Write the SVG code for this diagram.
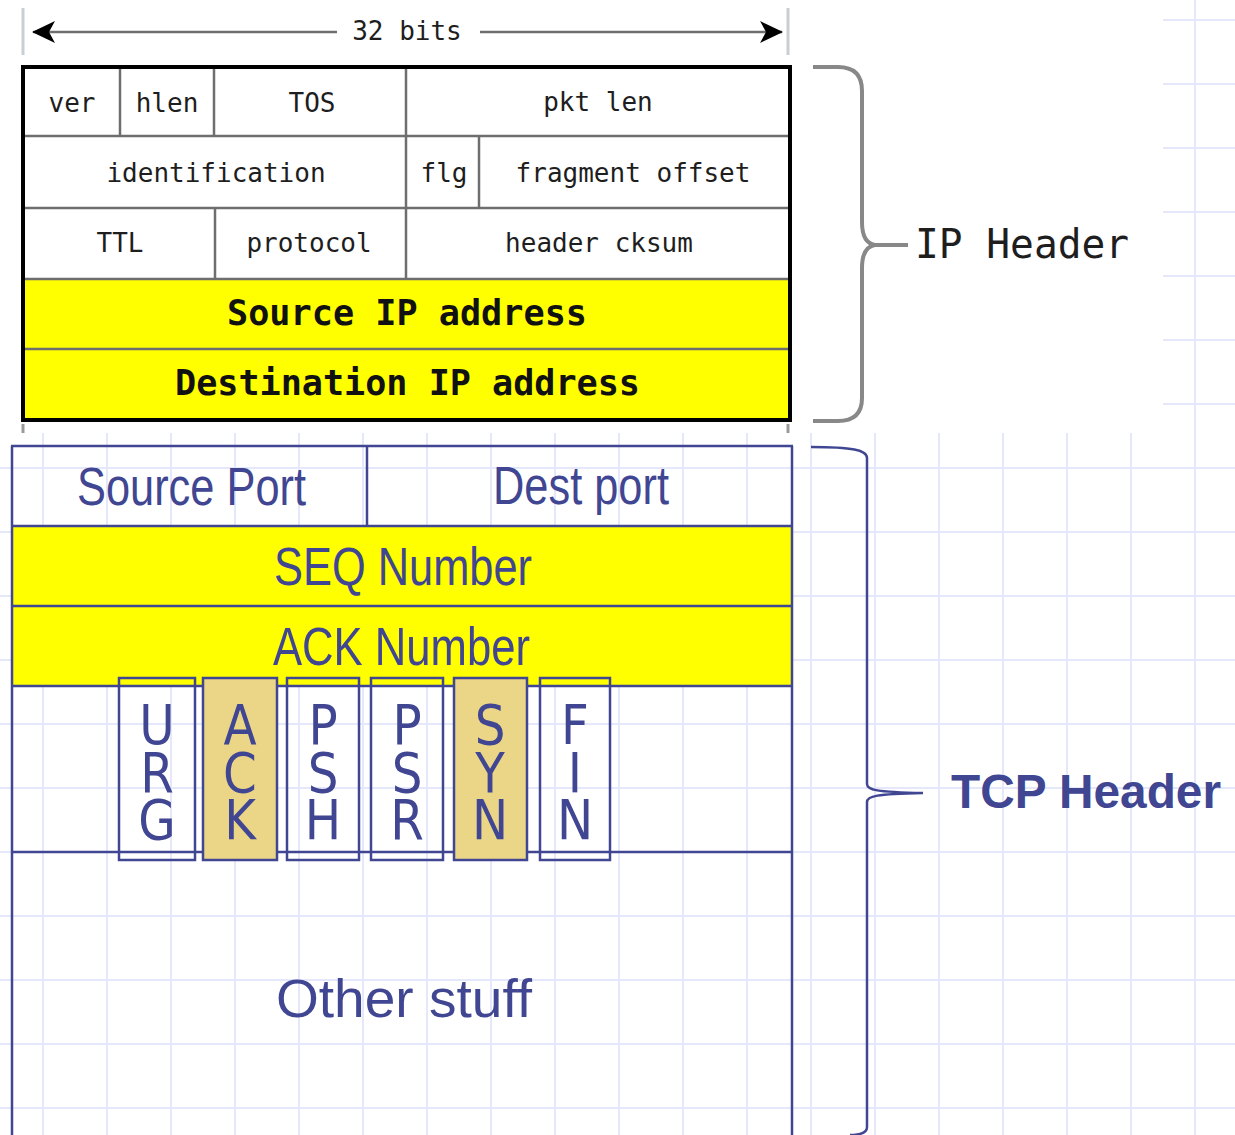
<svg xmlns="http://www.w3.org/2000/svg" width="1235" height="1135" viewBox="0 0 1235 1135">
<style>
.grid line{stroke:#e5e8fa;stroke-width:2}
.mono{font-family:"DejaVu Sans Mono","Liberation Mono",monospace;fill:#1e1e1e;font-size:26px;text-anchor:middle}
.monob{font-family:"DejaVu Sans Mono","Liberation Mono",monospace;fill:#111;font-weight:bold;font-size:36px}
.ipline{stroke:#6e6e6e;stroke-width:2.5;fill:none}
.tcp{stroke:#404692;stroke-width:2.5;fill:none}
.tt{font-family:"Liberation Sans",Arial,sans-serif;fill:#404692;font-size:53px}
.flag{stroke:#404692;stroke-width:2.5;fill:none}
.flagon{stroke:#404692;stroke-width:2.5;fill:#ebd687}
.fl{font-family:"DejaVu Sans",Verdana,sans-serif;fill:#404692;font-size:55px;writing-mode:vertical-rl;text-orientation:upright;letter-spacing:-16px}
</style>
<defs>
<marker id="ah" viewBox="0 0 24 24" refX="22" refY="12" markerWidth="24" markerHeight="24" markerUnits="userSpaceOnUse" orient="auto">
<path d="M23,12 L0,1 L6,12 L0,23 Z" fill="#000"/>
</marker>
</defs>
<rect width="1235" height="1135" fill="#fff"/>
<g class="grid" id="grid">
<line x1="43" y1="0" x2="43" y2="1135"/><line x1="107" y1="0" x2="107" y2="1135"/><line x1="171" y1="0" x2="171" y2="1135"/><line x1="235" y1="0" x2="235" y2="1135"/><line x1="299" y1="0" x2="299" y2="1135"/><line x1="363" y1="0" x2="363" y2="1135"/><line x1="427" y1="0" x2="427" y2="1135"/><line x1="491" y1="0" x2="491" y2="1135"/><line x1="555" y1="0" x2="555" y2="1135"/><line x1="619" y1="0" x2="619" y2="1135"/><line x1="683" y1="0" x2="683" y2="1135"/><line x1="747" y1="0" x2="747" y2="1135"/><line x1="811" y1="0" x2="811" y2="1135"/><line x1="875" y1="0" x2="875" y2="1135"/><line x1="939" y1="0" x2="939" y2="1135"/><line x1="1003" y1="0" x2="1003" y2="1135"/><line x1="1067" y1="0" x2="1067" y2="1135"/><line x1="1131" y1="0" x2="1131" y2="1135"/><line x1="1195" y1="0" x2="1195" y2="1135"/>
<line x1="0" y1="20" x2="1235" y2="20"/><line x1="0" y1="84" x2="1235" y2="84"/><line x1="0" y1="148" x2="1235" y2="148"/><line x1="0" y1="212" x2="1235" y2="212"/><line x1="0" y1="276" x2="1235" y2="276"/><line x1="0" y1="340" x2="1235" y2="340"/><line x1="0" y1="404" x2="1235" y2="404"/><line x1="0" y1="468" x2="1235" y2="468"/><line x1="0" y1="532" x2="1235" y2="532"/><line x1="0" y1="596" x2="1235" y2="596"/><line x1="0" y1="660" x2="1235" y2="660"/><line x1="0" y1="724" x2="1235" y2="724"/><line x1="0" y1="788" x2="1235" y2="788"/><line x1="0" y1="852" x2="1235" y2="852"/><line x1="0" y1="916" x2="1235" y2="916"/><line x1="0" y1="980" x2="1235" y2="980"/><line x1="0" y1="1044" x2="1235" y2="1044"/><line x1="0" y1="1108" x2="1235" y2="1108"/>
</g>
<rect x="0" y="0" width="1163" height="433" fill="#fff"/>

<g id="ip-header">
<rect x="25" y="280" width="763" height="139" fill="#ffff00"/>
<g class="ipline">
<line x1="25" y1="136" x2="788" y2="136"/>
<line x1="25" y1="208" x2="788" y2="208"/>
<line x1="25" y1="279" x2="788" y2="279"/>
<line x1="25" y1="349" x2="788" y2="349"/>
<line x1="120" y1="69" x2="120" y2="136"/>
<line x1="214" y1="69" x2="214" y2="136"/>
<line x1="406" y1="69" x2="406" y2="279"/>
<line x1="479" y1="136" x2="479" y2="208"/>
<line x1="215" y1="208" x2="215" y2="279"/>
</g>
<rect x="23" y="67" width="767" height="353" fill="none" stroke="#000" stroke-width="4"/>
<line x1="23" y1="8" x2="23" y2="55" stroke="#c9ced3" stroke-width="3"/>
<line x1="788" y1="8" x2="788" y2="55" stroke="#c9ced3" stroke-width="3"/>
<line x1="23" y1="424" x2="23" y2="433" stroke="#9a9a9a" stroke-width="3"/>
<line x1="788" y1="424" x2="788" y2="433" stroke="#9a9a9a" stroke-width="3"/>
<text class="mono" x="72" y="112">ver</text>
<text class="mono" x="167" y="112">hlen</text>
<text class="mono" x="312" y="112">TOS</text>
<text class="mono" x="598" y="111">pkt len</text>
<text class="mono" x="216" y="182">identification</text>
<text class="mono" x="444" y="182">flg</text>
<text class="mono" x="633" y="182">fragment offset</text>
<text class="mono" x="120" y="252">TTL</text>
<text class="mono" x="309" y="252">protocol</text>
<text class="mono" x="599" y="252">header cksum</text>
<text class="mono" x="407" y="40">32 bits</text>
<text class="monob" x="227" y="325" textLength="360" lengthAdjust="spacingAndGlyphs">Source IP address</text>
<text class="monob" x="175" y="395" textLength="465" lengthAdjust="spacingAndGlyphs">Destination IP address</text>
</g>

<g id="ip-label">
<text x="915" y="258" font-family="DejaVu Sans Mono,Liberation Mono,monospace" font-size="40" fill="#1e1e1e" textLength="214" lengthAdjust="spacingAndGlyphs">IP Header</text>
</g>

<g id="tcp-header">
<rect x="12" y="526" width="780" height="160" fill="#ffff00"/>
<g class="tcp">
<line x1="12" y1="446" x2="12" y2="1135"/>
<line x1="792" y1="446" x2="792" y2="1135"/>
<line x1="11" y1="446" x2="793" y2="446"/>
<line x1="12" y1="526" x2="792" y2="526"/>
<line x1="12" y1="606" x2="792" y2="606"/>
<line x1="12" y1="686" x2="792" y2="686"/>
<line x1="12" y1="852" x2="792" y2="852"/>
<line x1="367" y1="446" x2="367" y2="526"/>
</g>
<text class="tt" x="77" y="505" textLength="229" lengthAdjust="spacingAndGlyphs">Source Port</text>
<text class="tt" x="493" y="504" textLength="176" lengthAdjust="spacingAndGlyphs">Dest port</text>
<text class="tt" x="274" y="585" textLength="258" lengthAdjust="spacingAndGlyphs">SEQ Number</text>
<text class="tt" x="273" y="665" textLength="257" lengthAdjust="spacingAndGlyphs">ACK Number</text>
<text class="tt" x="276" y="1017" font-size="56" textLength="256" lengthAdjust="spacingAndGlyphs">Other stuff</text>
</g>

<g id="flag-urg">
<rect class="flag" x="119" y="678" width="76" height="182"/>
<g transform="translate(157,0) scale(0.88,1)"><text class="fl" x="0" y="693">URG</text></g>
</g>
<g id="flag-ack">
<rect class="flagon" x="203" y="678" width="74" height="182"/>
<g transform="translate(240,0) scale(0.88,1)"><text class="fl" x="0" y="693">ACK</text></g>
</g>
<g id="flag-psh">
<rect class="flag" x="287" y="678" width="72" height="182"/>
<g transform="translate(323,0) scale(0.88,1)"><text class="fl" x="0" y="693">PSH</text></g>
</g>
<g id="flag-psr">
<rect class="flag" x="371" y="678" width="72" height="182"/>
<g transform="translate(407,0) scale(0.88,1)"><text class="fl" x="0" y="693">PSR</text></g>
</g>
<g id="flag-syn">
<rect class="flagon" x="454" y="678" width="73" height="182"/>
<g transform="translate(490,0) scale(0.88,1)"><text class="fl" x="0" y="693">SYN</text></g>
</g>
<g id="flag-fin">
<rect class="flag" x="540" y="678" width="70" height="182"/>
<g transform="translate(575,0) scale(0.88,1)"><text class="fl" x="0" y="693">FIN</text></g>
</g>

<g id="tcp-label">
<text x="951" y="808" font-family="Liberation Sans,Arial,sans-serif" font-weight="bold" font-size="48" fill="#404692" textLength="270" lengthAdjust="spacingAndGlyphs">TCP Header</text>
</g>

<g id="connectors">
<line x1="337" y1="32" x2="33" y2="32" stroke="#6f6f6f" stroke-width="2.5" marker-end="url(#ah)"/>
<line x1="480" y1="32" x2="782" y2="32" stroke="#6f6f6f" stroke-width="2.5" marker-end="url(#ah)"/>
<path d="M813,67 L838,67 Q862,67 862,91 L862,222 Q862,243 875,245 L908,245 M875,245 Q862,247 862,268 L862,398 Q862,421 838,421 L813,421" fill="none" stroke="#888" stroke-width="4"/>
<path d="M811,447 C852,447 867,450 867,458 L867,784 C867,790 876,792 923,793 M923,793 C876,794 867,796 867,802 L867,1127 C867,1133 860,1135 850,1135" fill="none" stroke="#404692" stroke-width="2.5"/>
</g>
</svg>
